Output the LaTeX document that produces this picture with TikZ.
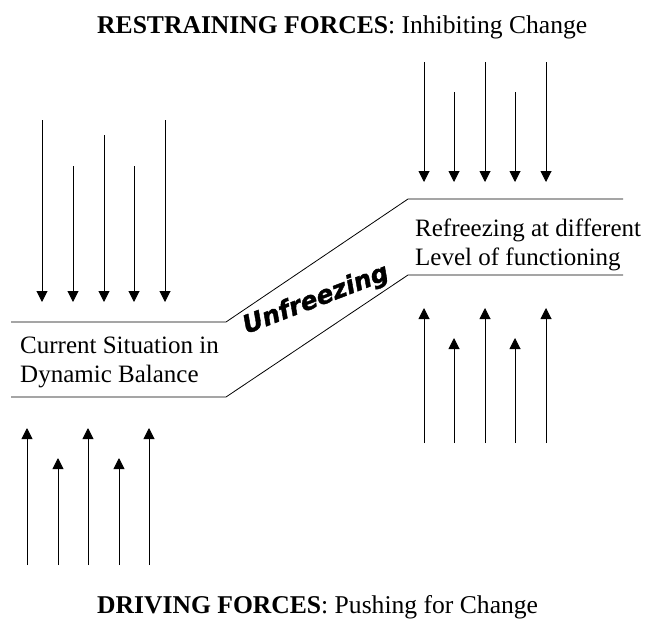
\documentclass[tikz,border=0pt]{standalone}
\usepackage{fontspec}
\setmainfont{Liberation Serif}
\newfontfamily\stepfont[FakeBold=1.5]{DejaVu Sans}
\usetikzlibrary{arrows.meta}

\begin{document}
\begin{tikzpicture}[x=1pt,y=-1pt,
      force_arrow/.style={
        -{Triangle[width=11pt,length=11pt]},
        line width=1pt,
        },
      level_line/.style={
        line width=0.8pt,
        },
      txt_node/.style={
        inner sep=0pt,
        align=left,
        font=\fontsize{25}{29}\selectfont,
        },
      title_node/.style={
        inner sep=0pt,
        anchor=base west,
        font=\fontsize{25.6}{29}\selectfont,
        }
]
      \useasboundingbox (0,0) rectangle (647,621);

      %titles
      \node[title_node] (restrain) at (97,33) {\textbf{RESTRAINING FORCES}: Inhibiting Change};
      \node[title_node] (driving) at (97,613) {\textbf{DRIVING FORCES}: Pushing for Change};

      %the step
      \draw[level_line] (11,322) -- (226,322) -- (408,199) -- (623,199);
      \draw[level_line] (11,397) -- (226,397) -- (408,275) -- (623,275);

      \node[txt_node,anchor=west] (current) at (20,362) {Current Situation in\\Dynamic Balance};
      \node[txt_node,anchor=west] (refreeze) at (415,245) {Refreezing at different\\Level of functioning};
      \node[inner sep=0pt,font=\stepfont\bfseries\itshape\fontsize{25}{25}\selectfont,rotate=21] (unfreeze) at (316,300) {Unfreezing};

    \foreach \i/\x/\ya/\yb in {% name/x/start/end
      lt1/42/120/302, lt2/73/166/302, lt3/104/135/302, lt4/134/166/302, lt5/165/120/302,
      rt1/424/62/182, rt2/454/92/182, rt3/485/62/182, rt4/515/92/182, rt5/546/62/182,
      lb1/27/565/428, lb2/58/565/458, lb3/88/565/428, lb4/119/565/458, lb5/149/565/428,
      rb1/424/443/308, rb2/454/443/338, rb3/485/443/308, rb4/515/443/338, rb5/546/443/308}
    {
      \coordinate (\i s) at (\x,\ya);
      \coordinate (\i e) at (\x,\yb);
      \draw[force_arrow] (\i s) -- (\i e);
    }
\end{tikzpicture}
\end{document}
